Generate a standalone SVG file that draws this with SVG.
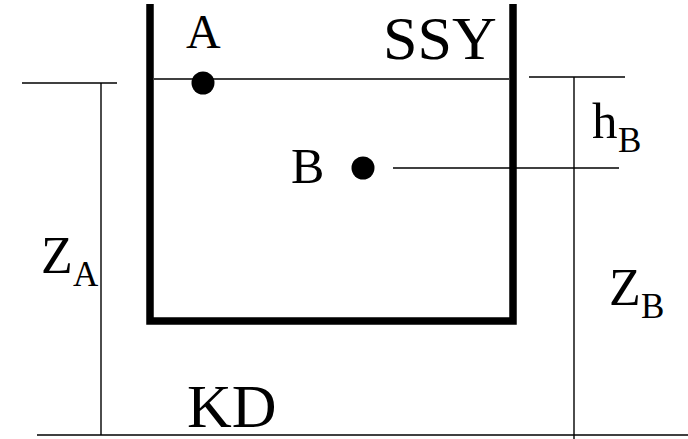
<svg xmlns="http://www.w3.org/2000/svg" width="688" height="439" viewBox="0 0 688 439">
<style>
.thin{stroke:#000;stroke-width:1.4;fill:none}
.wall{stroke:#000;stroke-width:7.5;fill:none;stroke-linejoin:miter}
.t{font-family:Liberation Serif;fill:#000}
</style>
<rect width="688" height="439" fill="#fff"/>
<g id="tank">
<polyline class="wall" points="150,4 150,321 513,321 513,4"/>
<line class="thin" x1="154" y1="79" x2="509" y2="79" stroke-width="1.6"/>
<text class="t" x="383" y="59" font-size="62">SSY</text>
</g>
<g id="pointA">
<circle cx="203" cy="83" r="11.5" fill="#000"/>
<text class="t" x="186" y="48" font-size="48">A</text>
</g>
<g id="pointB">
<circle cx="363" cy="168" r="11.5" fill="#000"/>
<text class="t" x="291" y="183" font-size="50">B</text>
</g>
<g id="datum">
<text class="t" x="187" y="427" font-size="62">KD</text>
</g>
<g id="connectors">
<line class="thin" x1="22" y1="83" x2="117" y2="83"/>
<line class="thin" x1="101" y1="83" x2="101" y2="435"/>
<line class="thin" x1="37" y1="435" x2="688" y2="435" stroke-width="1.6"/>
<line class="thin" x1="529" y1="77" x2="625" y2="77"/>
<line class="thin" x1="574" y1="77" x2="574" y2="439"/>
<line class="thin" x1="393" y1="168" x2="619" y2="168" stroke-width="1.6"/>
</g>
<g id="labelZA">
<text class="t" x="41" y="273" font-size="52">Z<tspan x="73" y="286" font-size="35">A</tspan></text>
</g>
<g id="labelZB">
<text class="t" x="609" y="305" font-size="52">Z<tspan x="641" y="318" font-size="35">B</tspan></text>
</g>
<g id="labelhB">
<text class="t" x="592" y="138" font-size="51">h<tspan x="618" y="152" font-size="35">B</tspan></text>
</g>
</svg>
